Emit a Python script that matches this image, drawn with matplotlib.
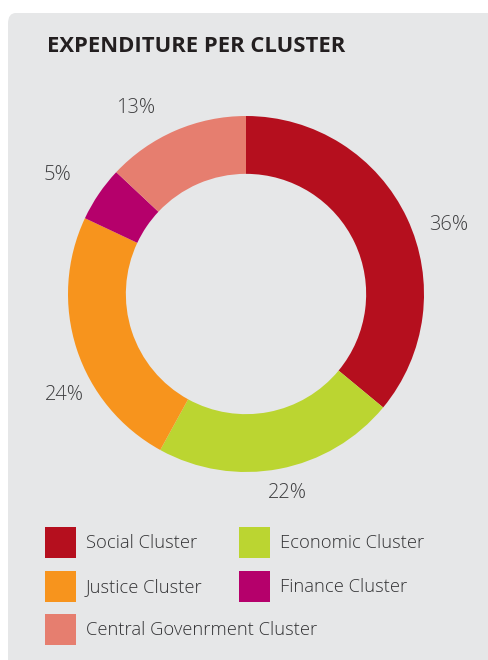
import matplotlib
matplotlib.use('Agg')
import matplotlib.pyplot as plt
from matplotlib.patches import FancyBboxPatch, Rectangle

plt.rcParams['font.family'] = ['Open Sans', 'DejaVu Sans']

clusters = ['Social Cluster', 'Economic Cluster', 'Justice Cluster',
            'Finance Cluster', 'Central Govenrment Cluster']
shares = [36, 22, 24, 5, 13]
colors = ['#B50F1E', '#BBD531', '#F7941D', '#B5006B', '#E67E6F']

# where each percentage sits, in units of the outer radius
label_xy = [(1.14, 0.39), (0.23, -1.12), (-1.02, -0.57), (-1.06, 0.67), (-0.62, 1.045)]

W, H = 488, 660
fig = plt.figure(figsize=(W / 100, H / 100), dpi=100)
fig.patch.set_facecolor('white')

# grey card behind everything
card = FancyBboxPatch((8 / W, -0.05), 1.1, 1 - 13 / H + 0.05,
                      boxstyle='round,pad=0,rounding_size=0.016',
                      transform=fig.transFigure, facecolor='#E6E7E8',
                      edgecolor='none', zorder=-5)
fig.patches.append(card)

fig.text(47 / W, 1 - 47 / H, 'EXPENDITURE PER CLUSTER', fontsize=15.8,
         fontweight='bold', color='#231F20', va='center', ha='left')

# donut
r_px = 178
half = 1.3
side = 2 * half * r_px
cx, cy = 246, H - 294
ax = fig.add_axes([(cx - side / 2) / W, (cy - side / 2) / H, side / W, side / H])
ax.set_zorder(2)
ax.set_facecolor('none')
ax.pie(shares, colors=colors, startangle=90, counterclock=False,
       wedgeprops=dict(width=0.325, linewidth=0))
for v, (x, y) in zip(shares, label_xy):
    ax.text(x, y, f'{v}%', fontsize=14.5, color='#3F3F41', fontweight='light',
            ha='center', va='center')
ax.set_xlim(-half, half)
ax.set_ylim(-half, half)
ax.set_aspect('equal')
ax.axis('off')

# legend in two columns
slots = [(45, 527), (239, 527), (45, 571), (239, 571), (45, 614)]
for (x, y), name, c in zip(slots, clusters, colors):
    fig.patches.append(Rectangle((x / W, 1 - (y + 31) / H), 31 / W, 31 / H,
                                 transform=fig.transFigure, facecolor=c,
                                 edgecolor='none'))
    fig.text((x + 41) / W, 1 - (y + 16) / H, name, fontsize=13.2,
             color='#333335', va='center', ha='left', fontweight='light')

fig.savefig('out.png', dpi=100)
